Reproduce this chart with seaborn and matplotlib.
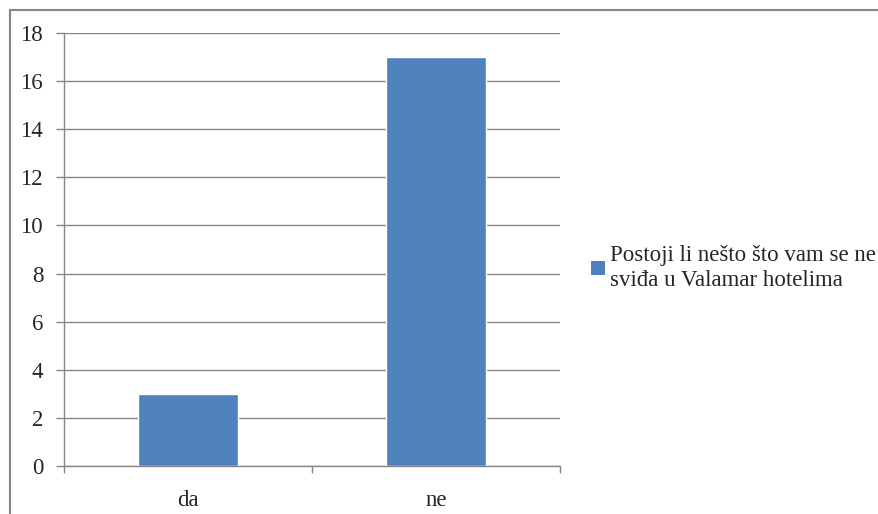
import matplotlib
matplotlib.use("Agg")
import matplotlib.pyplot as plt
from matplotlib.patches import Rectangle, Patch
import seaborn as sns
import pandas as pd

categories = ["da", "ne"]
values = [3, 17]
series_name = "Postoji li nešto što vam se ne\nsviđa u Valamar hotelima"
y_ticks = [0, 2, 4, 6, 8, 10, 12, 14, 16, 18]

BAR = "#4F81BD"
GRID = "#868686"

sns.set_style("white")
plt.rcParams["font.family"] = ["Liberation Serif", "DejaVu Serif"]

df = pd.DataFrame({"odgovor": categories, "broj": values})

W, H = 879, 514
fig = plt.figure(figsize=(W / 100, H / 100), dpi=100)
ax = fig.add_axes([64 / W, 1 - 466 / H, (560 - 64) / W, (466 - 33) / H])

sns.barplot(data=df, x="odgovor", y="broj", color=BAR, width=0.4,
            saturation=1, ax=ax, zorder=3)

ax.set_xlim(-0.5, 1.5)
ax.set_ylim(0, 18)
ax.set_yticks(y_ticks)
ax.set_xlabel("")
ax.set_ylabel("")

# gridlines
ax.yaxis.grid(True, color=GRID, linewidth=1)
ax.set_axisbelow(True)

for s in ["top", "right"]:
    ax.spines[s].set_visible(False)
for s in ["left", "bottom"]:
    ax.spines[s].set_color(GRID)
    ax.spines[s].set_linewidth(1)

FS = 16.5
ax.tick_params(axis="y", left=True, length=6, color=GRID, width=1, pad=9,
               labelsize=FS)
ax.tick_params(axis="x", which="major", bottom=False, length=0, pad=17,
               labelsize=FS)
ax.set_xticks([-0.5, 0.5, 1.5], minor=True)
ax.tick_params(axis="x", which="minor", bottom=True, length=5, color=GRID,
               width=1)

# legend
handle = Patch(facecolor=BAR, edgecolor="none", label=series_name)
leg = fig.legend(handles=[handle], loc="center left",
                 bbox_to_anchor=(591 / W, 1 - 268 / H), frameon=False,
                 fontsize=FS, handlelength=0.6, handleheight=0.6,
                 handletextpad=0.25, borderpad=0, borderaxespad=0)
for t in leg.get_texts():
    t.set_linespacing(1.25)

# outer chart border
fig.patches.append(Rectangle((10 / W, -0.1), 1.2, 1.1 - 10 / H,
                             transform=fig.transFigure, fill=False,
                             edgecolor=GRID, linewidth=1.5))

fig.savefig("out.png", dpi=100)
